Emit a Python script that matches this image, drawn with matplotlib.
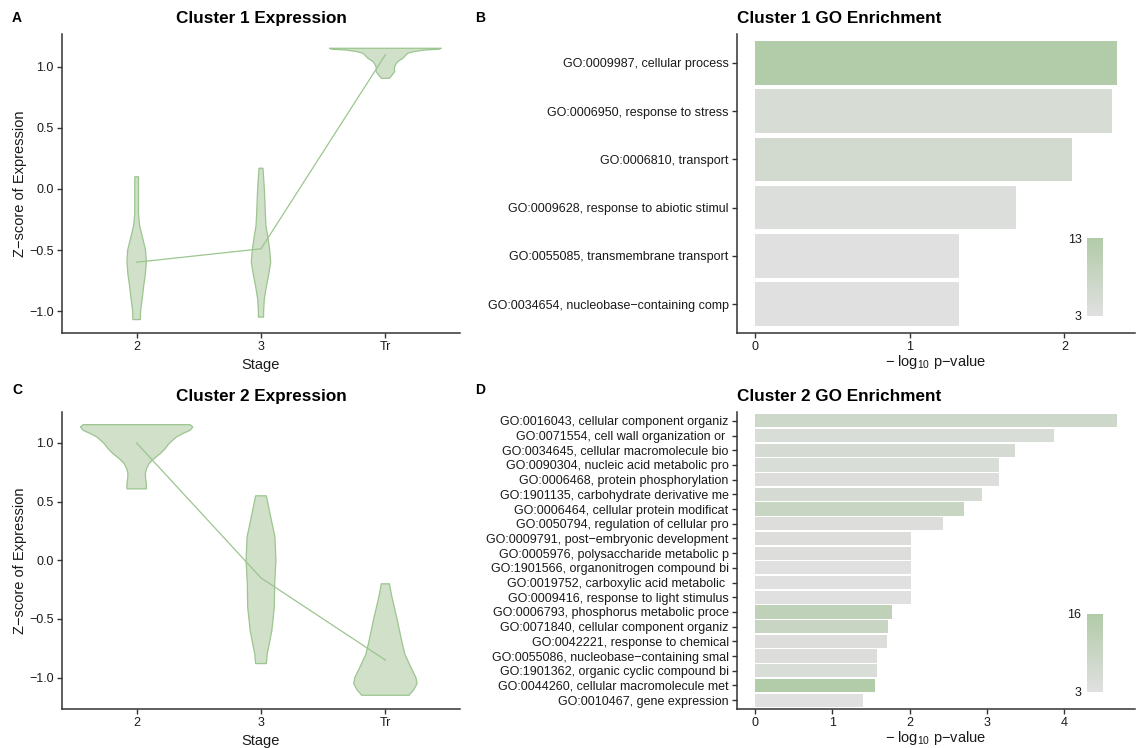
import matplotlib
matplotlib.use("Agg")
import matplotlib.pyplot as plt
import numpy as np
from matplotlib.colors import LinearSegmentedColormap, Normalize
from matplotlib.cm import ScalarMappable

plt.rcParams["font.family"] = ["Liberation Sans", "DejaVu Sans"]
plt.rcParams["mathtext.fontset"] = "custom"
plt.rcParams["mathtext.rm"] = "Liberation Sans"
plt.rcParams["mathtext.default"] = "regular"

W, H = 1138, 748
stages = ["2", "3", "Tr"]

# violin outlines: y levels and half-widths (x units), one per stage
c1_s2_y = [0.10, -0.20, -0.30, -0.40, -0.50, -0.60, -0.70, -0.80, -0.90, -1.00, -1.07]
c1_s2_w = [0.015, 0.015, 0.024, 0.048, 0.072, 0.078, 0.070, 0.056, 0.045, 0.032, 0.030]
c1_s3_y = [0.17, 0.00, -0.20, -0.30, -0.40, -0.50, -0.60, -0.70, -0.80, -0.90, -1.00, -1.05]
c1_s3_w = [0.016, 0.027, 0.035, 0.040, 0.056, 0.070, 0.078, 0.062, 0.043, 0.027, 0.021, 0.021]
c1_tr_y = [1.153, 1.145, 1.139, 1.126, 1.112, 1.098, 1.071, 1.044, 1.016, 0.989, 0.962, 0.934, 0.907]
c1_tr_w = [0.45, 0.43, 0.32, 0.23, 0.18, 0.166, 0.14, 0.10, 0.08, 0.072, 0.075, 0.054, 0.032]

c2_s2_y = [1.156, 1.136, 1.108, 1.079, 1.051, 1.023, 0.994, 0.952, 0.909, 0.867, 0.824, 0.782,
           0.739, 0.697, 0.654, 0.609]
c2_s2_w = [0.43, 0.452, 0.43, 0.37, 0.32, 0.29, 0.26, 0.23, 0.19, 0.14, 0.10, 0.08,
           0.07, 0.072, 0.078, 0.078]
c2_s3_y = [0.55, 0.40, 0.20, 0.00, -0.20, -0.40, -0.60, -0.80, -0.88]
c2_s3_w = [0.043, 0.072, 0.112, 0.120, 0.110, 0.107, 0.087, 0.050, 0.043]
c2_tr_y = [-0.20, -0.30, -0.50, -0.70, -0.80, -0.90, -1.00, -1.05, -1.10, -1.15]
c2_tr_w = [0.033, 0.050, 0.094, 0.134, 0.157, 0.200, 0.246, 0.255, 0.230, 0.190]

c1_means = [-0.60, -0.49, 1.10]
c2_means = [1.00, -0.15, -0.85]

go1_terms = ["GO:0009987, cellular process",
             "GO:0006950, response to stress",
             "GO:0006810, transport",
             "GO:0009628, response to abiotic stimul",
             "GO:0055085, transmembrane transport",
             "GO:0034654, nucleobase\u2212containing comp"]
go1_logp = [2.34, 2.31, 2.05, 1.69, 1.32, 1.32]
go1_count = [13, 5, 6, 4, 3, 3]

go2_terms = ["GO:0016043, cellular component organiz",
             "GO:0071554, cell wall organization or ",
             "GO:0034645, cellular macromolecule bio",
             "GO:0090304, nucleic acid metabolic pro",
             "GO:0006468, protein phosphorylation",
             "GO:1901135, carbohydrate derivative me",
             "GO:0006464, cellular protein modificat",
             "GO:0050794, regulation of cellular pro",
             "GO:0009791, post\u2212embryonic development",
             "GO:0005976, polysaccharide metabolic p",
             "GO:1901566, organonitrogen compound bi",
             "GO:0019752, carboxylic acid metabolic ",
             "GO:0009416, response to light stimulus",
             "GO:0006793, phosphorus metabolic proce",
             "GO:0071840, cellular component organiz",
             "GO:0042221, response to chemical",
             "GO:0055086, nucleobase\u2212containing smal",
             "GO:1901362, organic cyclic compound bi",
             "GO:0044260, cellular macromolecule met",
             "GO:0010467, gene expression"]
go2_logp = [4.68, 3.86, 3.36, 3.15, 3.15, 2.94, 2.70, 2.43, 2.02, 2.02,
            2.02, 2.02, 2.02, 1.77, 1.72, 1.70, 1.58, 1.58, 1.55, 1.40]
go2_count = [8, 5, 6, 5, 4, 6, 10, 4, 4, 4, 3, 3, 3, 12, 10, 4, 4, 5, 16, 3]

FILL = "#d0e0c9"
EDGE = "#9cc590"
AXC = "#333333"
TXT = "#1a1a1a"
cmap = LinearSegmentedColormap.from_list("go", ["#e0e0e0", "#b2cba8"])


def box(x0, y0, x1, y1):
    return [x0 / W, 1 - y1 / H, (x1 - x0) / W, (y1 - y0) / H]


def style(ax):
    for s in ("top", "right"):
        ax.spines[s].set_visible(False)
    for s in ("left", "bottom"):
        ax.spines[s].set_color(AXC)
        ax.spines[s].set_linewidth(1.1)
    ax.tick_params(colors=AXC, labelcolor=TXT, labelsize=9, length=3.5, width=1.0, pad=2.5)


def violins(ax, profiles, means, title):
    for i, (ys, ws) in enumerate(profiles):
        ys = np.asarray(ys); ws = np.asarray(ws)
        xs = np.concatenate([i + ws, (i - ws)[::-1]])
        yy = np.concatenate([ys, ys[::-1]])
        ax.fill(xs, yy, facecolor=FILL, edgecolor=EDGE, lw=0.9, zorder=2)
    ax.plot(range(len(means)), means, color=EDGE, lw=0.9, zorder=3)
    ax.set_xlim(-0.6, 2.6)
    ax.set_xticks(range(len(stages)))
    ax.set_xticklabels(stages)
    ax.set_yticks([-1.0, -0.5, 0.0, 0.5, 1.0])
    ax.set_yticklabels([f"{v:.1f}".replace("-", "\u2212") for v in [-1.0, -0.5, 0.0, 0.5, 1.0]])
    ax.set_xlabel("Stage", fontsize=10.5, color=TXT, labelpad=3)
    ax.set_ylabel("Z\u2212score of Expression", fontsize=10.5, color=TXT, labelpad=1.5)
    ax.set_title(title, fontsize=12.3, fontweight="bold", pad=8)
    style(ax)


def go_bars(ax, cax, terms, logp, count, vmax, ticks, title):
    n = len(terms)
    pos = np.arange(n)[::-1]
    norm = Normalize(3, vmax)
    ax.barh(pos, logp, height=0.9, color=cmap(norm(np.asarray(count))), zorder=2)
    top = max(logp)
    ax.set_xlim(-0.05 * top, 1.05 * top)
    ax.set_ylim(-0.6, n - 0.4)
    ax.set_yticks(pos)
    ax.set_yticklabels(terms, fontsize=8.5)
    ax.set_xticks(ticks)
    ax.set_xlabel("\u2212 log$_{10}$ p\u2212value", fontsize=10.5, color=TXT, labelpad=0)
    ax.set_title(title, fontsize=12.3, fontweight="bold", loc="left", pad=8)
    style(ax)
    cb = plt.colorbar(ScalarMappable(norm=norm, cmap=cmap), cax=cax)
    cb.outline.set_visible(False)
    cb.set_ticks([3, vmax])
    cax.yaxis.set_ticks_position("left")
    cax.tick_params(length=0, labelsize=9, labelcolor=TXT, pad=4)


fig = plt.figure(figsize=(W / 100, H / 100), dpi=100)

axA = fig.add_axes(box(62, 34, 460, 333))
violins(axA, [(c1_s2_y, c1_s2_w), (c1_s3_y, c1_s3_w), (c1_tr_y, c1_tr_w)], c1_means,
        "Cluster 1 Expression")
axA.set_ylim(-1.18, 1.27)

axC = fig.add_axes(box(62, 412, 460, 709))
violins(axC, [(c2_s2_y, c2_s2_w), (c2_s3_y, c2_s3_w), (c2_tr_y, c2_tr_w)], c2_means,
        "Cluster 2 Expression")
axC.set_ylim(-1.267, 1.264)

axB = fig.add_axes(box(737, 34, 1135, 333))
caxB = fig.add_axes(box(1087, 238, 1103, 316))
go_bars(axB, caxB, go1_terms, go1_logp, go1_count, 13, [0, 1, 2], "Cluster 1 GO Enrichment")

axD = fig.add_axes(box(737, 412, 1135, 709))
caxD = fig.add_axes(box(1087, 614, 1103, 692))
go_bars(axD, caxD, go2_terms, go2_logp, go2_count, 16, [0, 1, 2, 3, 4], "Cluster 2 GO Enrichment")

for letter, x, y in [("A", 12, 18), ("B", 475, 18), ("C", 12, 390), ("D", 475, 390)]:
    fig.text(x / W, 1 - y / H, letter, fontsize=10, fontweight="bold", va="center", ha="left")

fig.savefig("out.png", dpi=100)
